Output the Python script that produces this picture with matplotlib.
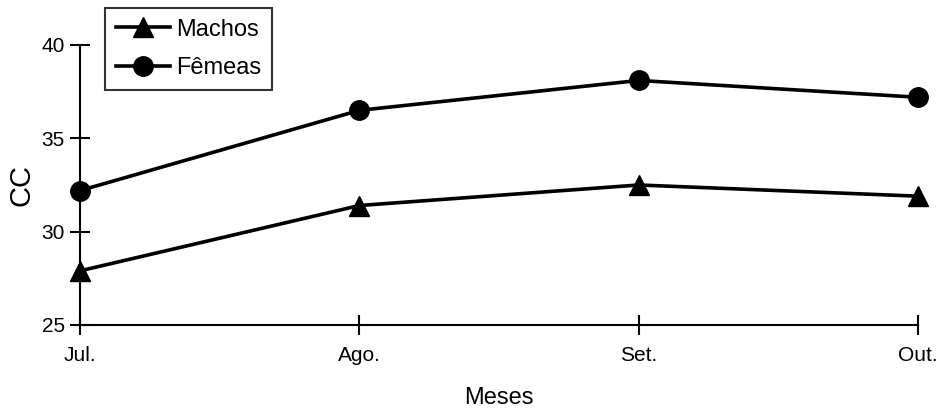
import matplotlib
matplotlib.use("Agg")
import matplotlib.pyplot as plt

plt.rcParams['font.family'] = ['Liberation Sans', 'DejaVu Sans']

# Data
meses = ["Jul.", "Ago.", "Set.", "Out."]
machos = [27.9, 31.4, 32.5, 31.9]
femeas = [32.2, 36.5, 38.1, 37.2]

fig = plt.figure(figsize=(9.38, 4.12), dpi=100)
ax = fig.add_axes([0.0853, 0.2112, 0.8934, 0.6796])

x = range(len(meses))
ax.plot(x, machos, color="black", linewidth=2.6, marker="^", markersize=15,
        label="Machos", clip_on=False, zorder=3)
ax.plot(x, femeas, color="black", linewidth=2.6, marker="o", markersize=14,
        label="Fêmeas", clip_on=False, zorder=3)

ax.set_xlim(0, len(meses) - 1)
ax.set_ylim(25, 40)
ax.set_yticks([25, 30, 35, 40])
ax.set_xticks(list(x))
ax.set_xticklabels(meses)

ax.spines['top'].set_visible(False)
ax.spines['right'].set_visible(False)
ax.spines['left'].set_linewidth(1.5)
ax.spines['bottom'].set_linewidth(1.5)
ax.tick_params(axis='both', direction='inout', length=14, width=1.5, labelsize=15)
ax.tick_params(axis='x', pad=8)
ax.tick_params(axis='y', pad=4)

ax.set_xlabel("Meses", fontsize=17, labelpad=16)
ax.set_ylabel("CC", fontsize=21, labelpad=4)

leg = ax.legend(loc="upper left", bbox_to_anchor=(0.03, 1.132), fontsize=17,
                frameon=True, fancybox=False, edgecolor="black",
                handlelength=2.3, handletextpad=0.25, borderpad=0.45,
                labelspacing=0.7, borderaxespad=0)
leg.get_frame().set_linewidth(1.5)

fig.savefig("out.png", dpi=100)
